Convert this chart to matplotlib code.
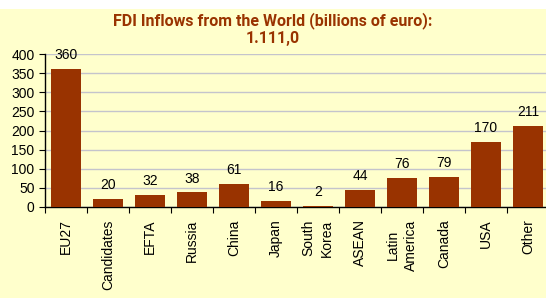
import matplotlib.pyplot as plt
from matplotlib.patches import Rectangle

plt.rcParams['font.family'] = ['Liberation Sans', 'DejaVu Sans']

categories = ["EU27", "Candidates", "EFTA", "Russia", "China", "Japan",
              "South\nKorea", "ASEAN", "Latin\nAmerica", "Canada", "USA", "Other"]
values = [360, 20, 32, 38, 61, 16, 2, 44, 76, 79, 170, 211]

bg = "#FFFFCC"
bar_color = "#993300"

fig = plt.figure(figsize=(5.46, 2.98), dpi=100)
fig.patch.set_facecolor("white")
fig.patches.append(Rectangle((0, 0), 1, 1 - 9 / 298, transform=fig.transFigure,
                             facecolor=bg, edgecolor="none", zorder=-10))

ax = fig.add_axes([45 / 546, 1 - 207 / 298, 504 / 546, 153 / 298])
ax.set_facecolor(bg)
x = range(len(categories))
bars = ax.bar(x, values, width=0.72, color=bar_color, zorder=3)
ax.set_xlim(-0.5, len(categories) - 0.5)
ax.set_ylim(0, 400)
ax.set_yticks(range(0, 401, 50))
ax.yaxis.grid(True, color="#C4C4CC", linewidth=1, zorder=0)

for xi, v in zip(x, values):
    ax.annotate(str(v), (xi, v), xytext=(0, 5), textcoords="offset points",
                ha="center", va="bottom", fontsize=10, color="black")

ax.set_xticks([i + 0.5 for i in range(-1, len(categories))], minor=False)
ax.set_xticklabels([])
ax.set_xticks(list(x), minor=True)
ax.set_xticklabels(categories, minor=True, rotation=90, fontsize=10,
                   ha="center", va="top", multialignment="center", linespacing=1.4)
ax.tick_params(axis="x", which="major", length=4, direction="out", width=0.8)
ax.tick_params(axis="x", which="minor", length=0, pad=9)
ax.tick_params(axis="y", length=4, direction="out", labelsize=10, width=0.8)

for s in ["top", "right"]:
    ax.spines[s].set_visible(False)
ax.spines["left"].set_linewidth(1)
ax.spines["bottom"].set_linewidth(1)

fig.text(0.5, 1 - 29 / 298, "FDI Inflows from the World (billions of euro):\n1.111,0",
         ha="center", va="center", fontsize=11.5, fontweight="bold",
         family=["Roboto", "DejaVu Sans"], color="#993300", linespacing=1.2)

fig.savefig("out.png", dpi=100, facecolor=fig.get_facecolor())
